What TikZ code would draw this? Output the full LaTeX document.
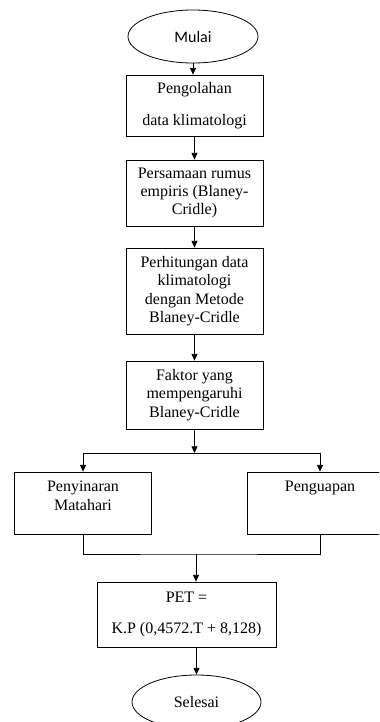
\documentclass[12pt,tikz,border=0pt]{standalone}
\usepackage{fontspec}
\setmainfont{Liberation Serif}
\newfontfamily\calibrifont{Carlito}
\usetikzlibrary{shapes.geometric,arrows.meta}

\begin{document}
\begin{tikzpicture}[x=0.75pt,y=-0.75pt,line width=0.6pt,
  box/.style={draw,rectangle,minimum width=102.75pt,inner sep=0pt,align=center,font=\fontsize{12}{13.8}\selectfont},
  oval/.style={draw,ellipse,minimum width=97.5pt,minimum height=39.75pt,inner sep=0pt,font=\fontsize{12}{14}\selectfont},
  toptext/.style={anchor=north,align=center,yshift=-3pt,font=\fontsize{12}{13.8}\selectfont},
  arr/.style={-{Triangle[length=5pt,width=4.5pt]}}]
  \useasboundingbox (0,0) rectangle (379,722);
  \clip (0,0) rectangle (379,722);
  % main column
  \node[oval,font=\calibrifont\fontsize{12}{14}\selectfont] (mulai) at (193,36.5) {Mulai};
  \node[box,minimum height=45.75pt] (pengolahan) at (194.5,105.5) {Pengolahan\\[10pt]data klimatologi};
  \node[box,minimum height=49.5pt] (persamaan) at (194.5,193) {Persamaan rumus\\empiris (Blaney-\\Cridle)};
  \node[box,minimum height=64.5pt] (perhitungan) at (194.5,291) {Perhitungan data\\klimatologi\\dengan Metode\\Blaney-Cridle};
  \node[box,minimum height=51pt] (faktor) at (194.5,395) {Faktor yang\\mempengaruhi\\Blaney-Cridle};
  % two factors
  \node[box,minimum height=46.5pt,label={[toptext]north:Penyinaran\\Matahari}] (penyinaran) at (83,503) {};
  \node[box,minimum width=109.5pt,minimum height=46.5pt,label={[toptext]north:Penguapan}] (penguapan) at (320,503) {};
  % result
  \node[box,minimum width=134.25pt,minimum height=48.75pt] (pet) at (186.5,614.5) {PET =\\[10pt]K.P (0,4572.T + 8,128)};
  \node[oval,minimum width=96.75pt,minimum height=40.5pt] (selesai) at (196.5,702) {Selesai};
  \coordinate (split) at (194.5,453);
  \coordinate (merge) at (196,554);
  \draw[arr] (mulai.south) -- (mulai.south |- pengolahan.north);
  \draw[arr] (pengolahan) -- (persamaan);
  \draw[arr] (persamaan) -- (perhitungan);
  \draw[arr] (perhitungan) -- (faktor);
  \draw[arr] (faktor) -- (split);
  \draw[arr] (split) -| (penyinaran.north);
  \draw[arr] (split) -| (penguapan.north);
  \draw (penyinaran.south) |- (merge) -| (penguapan.south);
  \draw[arr] (merge) -- (merge |- pet.north);
  \draw[arr] (pet.south -| selesai.north) -- (selesai.north);
\end{tikzpicture}
\end{document}
